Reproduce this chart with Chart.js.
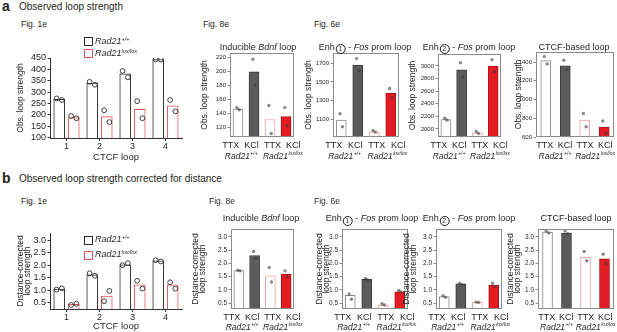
<!DOCTYPE html>
<html>
<head>
<meta charset="utf-8">
<script src="https://cdn.jsdelivr.net/npm/chart.js@4/dist/chart.umd.min.js"></script>
<style>
  body { margin: 0; width: 617px; height: 332px; position: relative; overflow: hidden; background: #fff;
         font-family: "Liberation Sans", Arial, Helvetica, sans-serif; color: #231f20; }
  canvas { position: absolute; }
  .t { position: absolute; white-space: nowrap; line-height: 1; z-index: 2; }
  .sup { font-size: 5.5px; vertical-align: 3.5px; line-height: 0; }
  .c { display: inline-block; width: 8px; height: 8px; border: 0.8px solid #231f20; border-radius: 50%;
       font-size: 7px; line-height: 8px; text-align: center; vertical-align: -1.5px; margin: 0 0.5px; }
  .sw { position: absolute; width: 7px; height: 7px; border: 1px solid; z-index: 2; }
</style>
</head>
<body>
<script>
const FONT = '"Liberation Sans", Arial, Helvetica, sans-serif';
const INK = '#231f20';

// ---- data ----
const ctcfLoops = ['1', '2', '3', '4'];
const treatments = ['TTX', 'KCl', 'TTX', 'KCl'];
const genotypes = [['Rad21', '+/+'], ['Rad21', 'lox/lox']];

// a: observed loop strength
const obsTicks1e = [100, 150, 200, 250, 300, 350, 400, 450];
const obsWt1e = [268, 340, 380, 443];
const obsWt1eRep1 = [272, 345, 393, 444];
const obsWt1eRep2 = [265, 332, 365, 443];
const obsLox1e = [188, 192, 224, 240];
const obsLox1eRep1 = [195, 220, 260, 265];
const obsLox1eRep2 = [185, 168, 185, 215];

const obsTicksBdnf = [120, 140, 160, 180, 200, 220];
const obsBdnf = [146, 199, 131, 135];
const obsBdnfRep1 = [148, 217, 151, 148];
const obsBdnfRep2 = [145, 180, 111, 122];

const obsTicksEnh1 = [1100, 1300, 1500, 1700];
const obsEnh1 = [1090, 1680, 965, 1380];
const obsEnh1Rep1 = [1160, 1750, 980, 1430];
const obsEnh1Rep2 = [1020, 1620, 962, 1330];

const obsTicksEnh2 = [2000, 2200, 2400, 2600, 2800, 3000];
const obsEnh2 = [2150, 2940, 1940, 3000];
const obsEnh2Rep1 = [2170, 3050, 1960, 3100];
const obsEnh2Rep2 = [2140, 2830, 1930, 2910];

const obsTicksCtcf = [600, 800, 1000, 1200, 1400];
const obsCtcf = [1415, 1360, 780, 705];
const obsCtcfRep1 = [1460, 1420, 850, 770];
const obsCtcfRep2 = [1380, 1320, 710, 640];

// b: corrected for distance
const dcTicks = [0.5, 1.0, 1.5, 2.0, 2.5, 3.0];
const dcWt1e = [1.05, 1.62, 2.02, 2.17];
const dcWt1eRep1 = [1.03, 1.68, 2.0, 2.2];
const dcWt1eRep2 = [1.08, 1.58, 2.08, 2.15];
const dcLox1e = [0.45, 0.77, 1.22, 1.22];
const dcLox1eRep1 = [0.42, 0.57, 1.38, 1.32];
const dcLox1eRep2 = [0.47, 0.98, 1.07, 1.07];

const dcBdnf = [1.73, 2.3, 1.53, 1.6];
const dcBdnfRep1 = [1.74, 2.45, 1.85, 1.72];
const dcBdnfRep2 = [1.72, 2.2, 1.3, 1.5];

const dcEnh1 = [0.8, 1.4, 0.43, 0.93];
const dcEnh1Rep1 = [0.85, 1.43, 0.48, 0.98];
const dcEnh1Rep2 = [0.65, 1.38, 0.43, 0.92];

const dcEnh2 = [0.75, 1.23, 0.53, 1.17];
const dcEnh2Rep1 = [0.78, 1.25, 0.54, 1.25];
const dcEnh2Rep2 = [0.72, 1.2, 0.53, 1.13];

const dcCtcf = [3.18, 3.15, 2.23, 2.17];
const dcCtcfRep1 = [3.22, 3.22, 2.45, 2.35];
const dcCtcfRep2 = [3.15, 3.12, 2.1, 2.0];

// ---- styles ----
const PAD_T = 8, PAD_R = 16;
const BOX_FILL = ['#ffffff', '#5b5b5b', '#ffffff', '#e31b23'];
const BOX_EDGE = ['#8a8a8a', '#3a3a3a', '#f2a0a3', '#b01018'];
const JIT = [-0.08, 0.08];
const PAIR = 0.22;              // half distance between the two bars of a CTCF loop
const obsFmt = v => String(v);
const dcFmt = v => v.toFixed(1);

// frame, condition labels and genotype labels of the boxed panels
const boxPlugin = {
  id: 'boxed',
  afterDraw(chart, args, opts) {
    if (!opts.on) return;
    const { ctx, chartArea: a } = chart;
    const xs = chart.scales.xs;
    ctx.save();
    ctx.strokeStyle = '#8c8c8c';
    ctx.lineWidth = 1;
    ctx.strokeRect(a.left + 0.5, a.top + 0.5, a.right - a.left - 1, a.bottom - a.top - 1);
    const mid = (a.left + a.right) / 2;
    const px = treatments.map((c, i) => mid + (xs.getPixelForValue(i) - mid) * opts.spread);
    ctx.fillStyle = INK;
    ctx.textAlign = 'center';
    ctx.font = `9px ${FONT}`;
    treatments.forEach((c, i) => ctx.fillText(c, px[i], a.bottom + opts.lab));
    genotypes.forEach((g, k) => {
      const cx = (px[2 * k] + px[2 * k + 1]) / 2;
      ctx.font = `italic 8.5px ${FONT}`;
      const w1 = ctx.measureText(g[0]).width;
      ctx.font = `italic 5px ${FONT}`;
      const w2 = ctx.measureText(g[1]).width;
      const x0 = cx - (w1 + w2 + 0.5) / 2;
      ctx.textAlign = 'left';
      ctx.font = `italic 8.5px ${FONT}`;
      ctx.fillText(g[0], x0, a.bottom + opts.geno);
      ctx.font = `italic 5px ${FONT}`;
      ctx.fillText(g[1], x0 + w1 + 0.5, a.bottom + opts.geno - 3.5);
    });
    ctx.restore();
  }
};

function makeChart(p) {
  const left = p.box[0] - p.yw, top = p.box[1] - PAD_T;
  const w = p.box[2] + PAD_R - left, h = p.box[3] + p.xh - top;
  const cv = document.createElement('canvas');
  cv.width = w; cv.height = h;
  cv.style.left = left + 'px'; cv.style.top = top + 'px';
  cv.style.width = w + 'px'; cv.style.height = h + 'px';
  document.body.appendChild(cv);

  const grouped = !!p.wt;
  const labels = grouped ? ctcfLoops : treatments;
  const n = labels.length;
  const datasets = [];
  const pts = [];
  const barOpts = { type: 'bar', xAxisID: 'xs', grouped: false, borderWidth: 1, borderSkipped: false,
                    categoryPercentage: 1, barPercentage: 1, order: 2 };
  if (grouped) {
    [[p.wt, -PAIR, '#2b2b2b'], [p.lox, PAIR, '#e2555b']].forEach(([s, off, col]) => {
      datasets.push(Object.assign({}, barOpts, {
        data: s[0].map((v, i) => ({ x: i + off, y: v })),
        backgroundColor: '#fff', borderColor: col, maxBarThickness: 11
      }));
      [s[1], s[2]].forEach((rep, r) => rep.forEach((v, i) => pts.push({ x: i + off + JIT[r], y: v })));
    });
    datasets.push({ type: 'scatter', xAxisID: 'xs', data: pts, pointRadius: 2.4,
                    pointBackgroundColor: 'rgba(255,255,255,0)', pointBorderColor: '#2b2b2b', pointBorderWidth: 0.9, order: 1 });
  } else {
    datasets.push(Object.assign({}, barOpts, {
      data: p.bars.map((v, i) => ({ x: i, y: v })),
      backgroundColor: BOX_FILL, borderColor: BOX_EDGE, maxBarThickness: 10
    }));
    p.reps.forEach((rep, r) => rep.forEach((v, i) => pts.push({ x: i + JIT[r] * 0.9, y: v })));
    datasets.push({ type: 'scatter', xAxisID: 'xs', data: pts, pointRadius: 1.7,
                    pointBackgroundColor: 'rgba(60,60,60,0.6)', pointBorderWidth: 0, order: 1 });
  }

  const axisCol = grouped ? '#333' : '#8c8c8c';
  new Chart(cv, {
    type: 'bar',
    data: { labels, datasets },
    options: {
      responsive: false, animation: false, devicePixelRatio: 1,
      layout: { padding: { top: PAD_T, right: PAD_R, left: 0, bottom: 0 } },
      plugins: {
        legend: { display: false }, tooltip: { enabled: false },
        boxed: { on: !grouped, spread: p.spread || 1, lab: p.lab || 10.5, geno: p.geno || 20.5 }
      },
      scales: {
        x: grouped ? {
          type: 'category', offset: true,
          afterFit: s => { s.height = p.xh; },
          ticks: { font: { family: FONT, size: 9 }, color: INK, padding: 0, maxRotation: 0, autoSkip: false },
          grid: { display: true, drawOnChartArea: false, drawTicks: true, tickLength: 3, offset: false, color: axisCol },
          border: { display: true, color: axisCol },
          title: { display: true, text: 'CTCF loop', font: { family: FONT, size: 9.5 }, color: INK, padding: 0 }
        } : {
          type: 'category', offset: true,
          afterFit: s => { s.height = p.xh; },
          ticks: { display: false }, grid: { display: false }, border: { display: false }
        },
        // hidden numeric twin of the category axis that places bars and replicate dots
        xs: { type: 'linear', display: false, offset: false, min: -0.5, max: n - 0.5, grid: { offset: false },
              afterBuildTicks: s => { s.ticks = labels.map((l, i) => ({ value: i })); } },
        y: {
          type: 'linear', min: p.min, max: p.max, beginAtZero: false,
          afterBuildTicks: s => { s.ticks = p.ticks.map(v => ({ value: v })); },
          afterFit: s => { s.width = p.yw; },
          ticks: { font: { family: FONT, size: p.tick }, color: INK, padding: 1.5, autoSkip: false, callback: p.fmt },
          grid: { display: true, drawOnChartArea: false, drawTicks: true, tickLength: 2.5, color: axisCol },
          border: { display: grouped, color: axisCol },
          title: { display: true, text: p.ytitle, color: INK, padding: 0,
                   font: { family: FONT, size: 8.5, lineHeight: Array.isArray(p.ytitle) ? 0.82 : 1.2 } }
        }
      }
    },
    plugins: [boxPlugin]
  });
}

const OBS = 'Obs. loop strength';
const DC = ['Distance-corrected', 'loop strength'];
const panels = [
  { box: [50, 58, 182, 138], yw: 34, xh: 25, min: 98, max: 450, ticks: obsTicks1e, tick: 9, fmt: obsFmt, ytitle: OBS,
    wt: [obsWt1e, obsWt1eRep1, obsWt1eRep2], lox: [obsLox1e, obsLox1eRep1, obsLox1eRep2] },
  { box: [230, 53, 294, 137], yw: 30, xh: 26, min: 106, max: 226, ticks: obsTicksBdnf, tick: 6, fmt: obsFmt, ytitle: OBS,
    bars: obsBdnf, reps: [obsBdnfRep1, obsBdnfRep2], spread: 1.3, lab: 11, geno: 21.5 },
  { box: [333, 53, 399, 137], yw: 29, xh: 26, min: 910, max: 1810, ticks: obsTicksEnh1, tick: 6, fmt: obsFmt, ytitle: OBS,
    bars: obsEnh1, reps: [obsEnh1Rep1, obsEnh1Rep2], spread: 1.3, lab: 11, geno: 21.5 },
  { box: [438, 54, 501, 137], yw: 30, xh: 26, min: 1873, max: 3190, ticks: obsTicksEnh2, tick: 6, fmt: obsFmt, ytitle: OBS,
    bars: obsEnh2, reps: [obsEnh2Rep1, obsEnh2Rep2], spread: 1.3, lab: 11, geno: 21.5 },
  { box: [536, 52, 614, 137], yw: 22, xh: 26, min: 600, max: 1507, ticks: obsTicksCtcf, tick: 6, fmt: obsFmt, ytitle: OBS,
    bars: obsCtcf, reps: [obsCtcfRep1, obsCtcfRep2], spread: 1.03, lab: 11, geno: 21.5 },

  { box: [50, 233, 182, 309], yw: 33, xh: 23, min: 0.26, max: 3.28, ticks: dcTicks, tick: 9, fmt: dcFmt, ytitle: DC,
    wt: [dcWt1e, dcWt1eRep1, dcWt1eRep2], lox: [dcLox1e, dcLox1eRep1, dcLox1eRep2] },
  { box: [231, 229, 294, 309], yw: 39, xh: 23, min: 0.28, max: 3.3, ticks: dcTicks, tick: 6.5, fmt: dcFmt, ytitle: DC,
    bars: dcBdnf, reps: [dcBdnfRep1, dcBdnfRep2], spread: 1.3 },
  { box: [342, 229, 408, 309], yw: 26, xh: 23, min: 0.28, max: 3.3, ticks: dcTicks, tick: 6.5, fmt: dcFmt, ytitle: DC,
    bars: dcEnh1, reps: [dcEnh1Rep1, dcEnh1Rep2], spread: 1.3 },
  { box: [436, 229, 502, 309], yw: 33, xh: 23, min: 0.28, max: 3.3, ticks: dcTicks, tick: 6.5, fmt: dcFmt, ytitle: DC,
    bars: dcEnh2, reps: [dcEnh2Rep1, dcEnh2Rep2], spread: 1.3 },
  { box: [538, 229, 614, 309], yw: 31, xh: 23, min: 0.28, max: 3.3, ticks: dcTicks, tick: 6.5, fmt: dcFmt, ytitle: DC,
    bars: dcCtcf, reps: [dcCtcfRep1, dcCtcfRep2], spread: 1.03 }
];
panels.forEach(makeChart);

// ---- text ----
function txt(html, x, base, size, opt) {
  const d = document.createElement('div');
  d.className = 't';
  d.innerHTML = html;
  d.style.left = x + 'px';
  d.style.top = (base - 0.8465 * size) + 'px';
  d.style.fontSize = size + 'px';
  if (opt && opt.center) d.style.transform = 'translateX(-50%)';
  if (opt && opt.bold) d.style.fontWeight = 'bold';
  document.body.appendChild(d);
}
function swatch(x, y, col) {
  const d = document.createElement('div');
  d.className = 'sw';
  d.style.left = x + 'px'; d.style.top = y + 'px'; d.style.borderColor = col;
  document.body.appendChild(d);
}

txt('a', 2, 10.5, 14, { bold: true });
txt('Observed loop strength', 19, 10.5, 10);
txt('b', 2, 182.5, 14, { bold: true });
txt('Observed loop strength corrected for distance', 19, 182.5, 10);

txt('Fig. 1e', 21, 27, 8.5);
txt('Fig. 8e', 203, 27, 8.5);
txt('Fig. 6e', 314, 27, 8.5);
txt('Fig. 1e', 21, 204.5, 8.5);
txt('Fig. 8e', 209, 204.5, 8.5);
txt('Fig. 6e', 314, 204.5, 8.5);

const titles = [
  'Inducible <i>Bdnf</i> loop',
  'Enh<span class="c">1</span> - <i>Fos</i> prom loop',
  'Enh<span class="c">2</span> - <i>Fos</i> prom loop',
  'CTCF-based loop'
];
[258, 365, 469, 574].forEach((x, i) => txt(titles[i], x, 50.5, 9, { center: true }));
[261, 372, 469, 576].forEach((x, i) => txt(titles[i], x, 222, 9, { center: true }));

// legends of Fig. 1e
[[37, 45, 12], [236, 242.5, 15]].forEach(([y, b, gap]) => {
  swatch(84, y, '#2b2b2b');
  swatch(84, y + gap, '#e2555b');
  txt('<i>Rad21</i><span class="sup"><i>+/+</i></span>', 95, b, 9);
  txt('<i>Rad21</i><span class="sup"><i>lox/lox</i></span>', 95, b + gap, 9);
});
</script>
</body>
</html>
